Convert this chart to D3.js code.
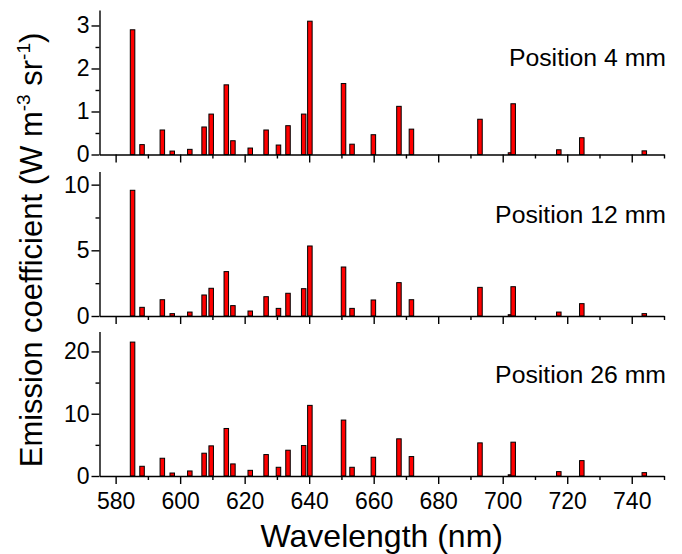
<!DOCTYPE html>
<html>
<head>
<meta charset="utf-8">
<script src="https://d3js.org/d3.v7.min.js"></script>
<style>
    body { margin: 0; background: #fff; }
    text { font-family: "Liberation Sans", Arial, sans-serif; fill: #000; }
</style>
</head>
<body>
<div id="chart"></div>
<script>
// Ne I line wavelengths (nm)
var wavelengths = [585.25, 588.19, 594.48, 597.55, 603.00, 607.43, 609.62, 614.31, 616.36,
    621.73, 626.65, 630.48, 633.44, 638.30, 640.22, 650.65, 653.29, 659.90, 667.83,
    671.70, 692.95, 702.41, 703.24, 717.39, 724.52, 743.89];

var pos4 = [2.90, 0.23, 0.57, 0.08, 0.12, 0.64, 0.94, 1.62, 0.32, 0.15, 0.57, 0.22, 0.67,
    0.94, 3.10, 1.65, 0.24, 0.46, 1.12, 0.59, 0.82, 0.04, 1.18, 0.11, 0.39, 0.085];

var pos12 = [9.57, 0.66, 1.24, 0.18, 0.30, 1.60, 2.11, 3.38, 0.79, 0.38, 1.47, 0.58, 1.73,
    2.08, 5.33, 3.73, 0.58, 1.22, 2.54, 1.24, 2.18, 0.10, 2.23, 0.30, 0.94, 0.18];

var pos26 = [21.5, 1.56, 2.85, 0.48, 0.81, 3.66, 4.84, 7.63, 1.94, 0.91, 3.44, 1.40, 4.14,
    4.89, 11.34, 8.98, 1.40, 3.01, 5.97, 3.12, 5.32, 0.20, 5.43, 0.70, 2.47, 0.54];

var panelLabels = ["Position 4 mm", "Position 12 mm", "Position 26 mm"];
var xTicks = [580, 600, 620, 640, 660, 680, 700, 720, 740];
var xMinor = [590, 610, 630, 650, 670, 690, 710, 730, 750];
var yTicks = [[0, 1, 2, 3], [0, 5, 10], [0, 10, 20]];
var yMinor = [[0.5, 1.5, 2.5], [2.5, 7.5], [5, 15]];
var yMax = [3.36, 11, 23.2];

var series = [pos4, pos12, pos26];

var w = 682, h = 554;
var left = 99.5, right = 664;
var tops = [10, 171.5, 331.5], ph = 144.5;
var barW = 1.4;

var svg = d3.select("#chart")
    .append("svg")
    .attr("width", w)
    .attr("height", h);

var x = d3.scaleLinear()
    .domain([575, 750])
    .range([left, right]);

series.forEach(function (vals, p) {
    var y = d3.scaleLinear()
        .domain([0, yMax[p]])
        .range([tops[p] + ph, tops[p]]);

    var g = svg.append("g");

    g.selectAll("rect")
        .data(vals)
        .enter()
        .append("rect")
        .attr("x", function (d, i) { return x(wavelengths[i] - barW / 2); })
        .attr("width", function (d, i) { return x(wavelengths[i] + barW / 2) - x(wavelengths[i] - barW / 2); })
        .attr("y", function (d) { return y(d); })
        .attr("height", function (d) { return y(0) - y(d); })
        .style("fill", "#ff0000")
        .style("stroke", "#000")
        .style("stroke-width", 1);

    // x axis (labels only on the bottom panel)
    g.append("g")
        .attr("transform", "translate(0," + y(0) + ")")
        .call(d3.axisBottom(x).tickValues(xTicks).tickSize(8).tickSizeOuter(0).tickPadding(9)
            .tickFormat(p == 2 ? d3.format("d") : ""));
    g.append("g")
        .attr("transform", "translate(0," + y(0) + ")")
        .call(d3.axisBottom(x).tickValues(xMinor).tickSize(4).tickSizeOuter(0).tickFormat(""))
        .select(".domain").remove();

    g.append("g")
        .attr("transform", "translate(" + left + ",0)")
        .call(d3.axisLeft(y).tickValues(yTicks[p]).tickSize(8).tickSizeOuter(0).tickPadding(2)
            .tickFormat(d3.format("d")));
    g.append("g")
        .attr("transform", "translate(" + left + ",0)")
        .call(d3.axisLeft(y).tickValues(yMinor[p]).tickSize(4).tickSizeOuter(0).tickFormat(""))
        .select(".domain").remove();

    g.selectAll(".domain, .tick line")
        .style("stroke", "#000")
        .style("stroke-width", 1.4);
    g.selectAll(".tick text")
        .style("font-size", "23px")
        .style("font-family", "'Liberation Sans', Arial, sans-serif");

    g.append("text")
        .attr("x", 666)
        .attr("y", tops[p] + (p == 0 ? 56 : 51))
        .attr("text-anchor", "end")
        .style("font-size", "24.8px")
        .text(panelLabels[p]);
});

svg.append("text")
    .attr("x", (left + right) / 2)
    .attr("y", 547)
    .attr("text-anchor", "middle")
    .style("font-size", "32px")
    .text("Wavelength (nm)");

var yt = svg.append("text")
    .attr("transform", "translate(42,250) rotate(-90)")
    .attr("text-anchor", "middle")
    .style("font-size", "31px");
yt.append("tspan").text("Emission coefficient (W m");
yt.append("tspan").attr("dy", -12).style("font-size", "19px").text("-3");
yt.append("tspan").attr("dy", 12).text(" sr");
yt.append("tspan").attr("dy", -12).style("font-size", "19px").text("-1");
yt.append("tspan").attr("dy", 12).text(")");
</script>
</body>
</html>
